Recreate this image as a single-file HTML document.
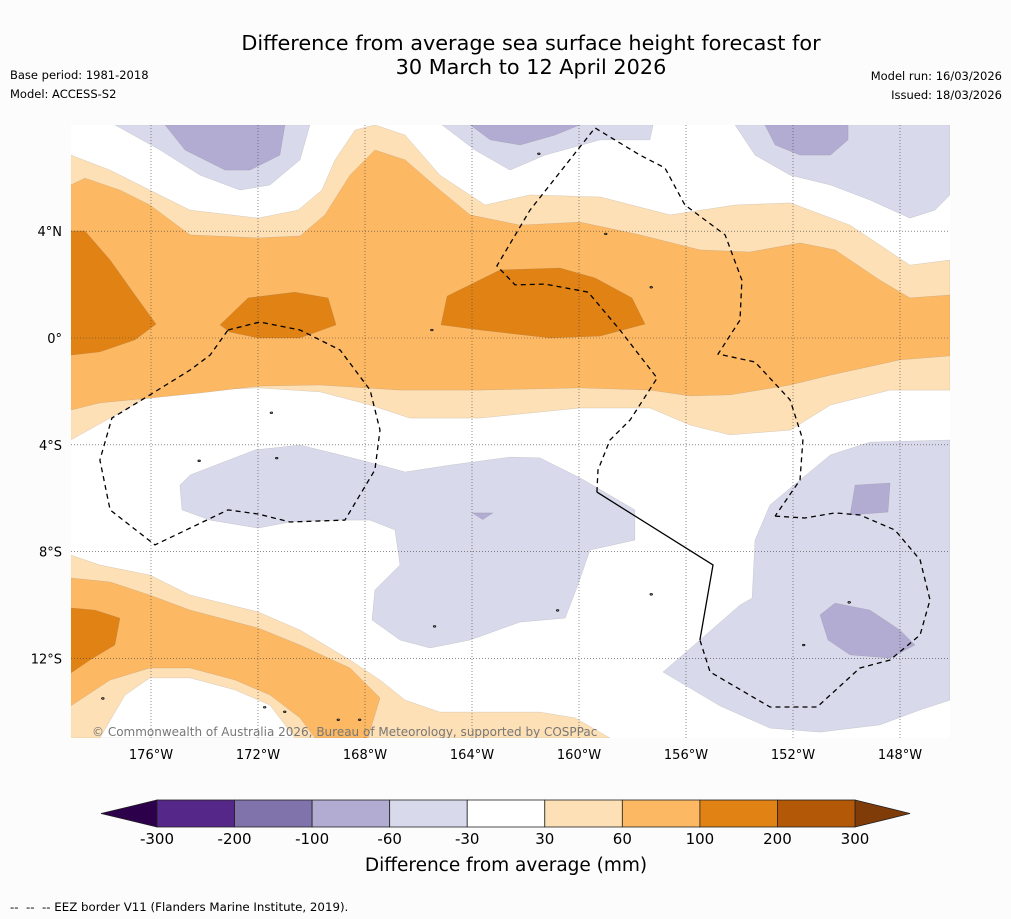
<!DOCTYPE html>
<html><head><meta charset="utf-8">
<style>
body{margin:0;background:#fcfcfc;font-family:"DejaVu Sans","Liberation Sans",sans-serif;}
#wrap{position:relative;width:1011px;height:919px;overflow:hidden;background:#fcfcfc}
.t{position:absolute;color:#000;white-space:nowrap}
</style></head>
<body>
<div id="wrap">
<div class="t" style="left:0;width:1062px;top:31px;text-align:center;font-size:20.8px;line-height:24px">Difference from average sea surface height forecast for<br>30 March to 12 April 2026</div>
<div class="t" style="left:10px;top:68px;font-size:11.5px">Base period: 1981-2018</div>
<div class="t" style="left:10px;top:87px;font-size:11.5px">Model: ACCESS-S2</div>
<div class="t" style="right:9px;top:69px;font-size:11.5px;text-align:right">Model run: 16/03/2026</div>
<div class="t" style="right:9px;top:88px;font-size:11.5px;text-align:right">Issued: 18/03/2026</div>
<div class="t" style="left:10px;top:900px;font-size:11.8px">--&nbsp; --&nbsp; -- EEZ border V11 (Flanders Marine Institute, 2019).</div>
<svg id="svg" width="1011" height="919" style="position:absolute;left:0;top:0"></svg>
</div>
<script>
const lonTicks=[-176,-172,-168,-164,-160,-156,-152,-148];
const lonLabels=["176°W","172°W","168°W","164°W","160°W","156°W","152°W","148°W"];
const latTicks=[4,0,-4,-8,-12];
const latLabels=["4°N","0°","4°S","8°S","12°S"];
const cbLevels=["-300","-200","-100","-60","-30","30","60","100","200","300"];
const cbColors=["#542788","#8073ac","#b2abd2","#d8daeb","#ffffff","#fee0b6","#fdb863","#e08214","#b35806"];
const cbUnder="#2d004b", cbOver="#7f3b08";
const orange30Top=[[-179,6.85],[-177.53,6.29],[-176.04,5.54],[-174.54,4.79],[-172,4.49],[-170.5,4.79],[-169.61,5.54],[-169.12,6.67],[-168.37,7.79],[-167.63,7.98],[-166.5,7.6],[-165.2,6.1],[-163.51,4.98],[-161.83,5.36],[-159.2,5.28],[-156.6,4.61],[-154.17,4.98],[-152.1,5.06],[-149.87,4.23],[-147.63,2.73],[-146.13,2.92],[-146.13,-1.95],[-148.37,-1.95],[-150.6,-2.51],[-152.1,-3.45],[-154.36,-3.63],[-155.85,-3.26],[-157.35,-2.62],[-159.96,-2.62],[-163.7,-3.0],[-166.32,-3.0],[-167.81,-2.51],[-169.68,-2.02],[-172,-1.87],[-174.17,-1.95],[-176.04,-2.17],[-179,-3.82]];
const orange60Top=[[-179,5.73],[-178.47,5.99],[-177.16,5.54],[-176.04,4.98],[-174.54,3.86],[-172,3.75],[-170.43,3.82],[-169.5,4.61],[-168.56,6.1],[-167.63,7.04],[-166.5,6.67],[-165.2,5.54],[-164.07,4.61],[-162.21,4.23],[-159.96,4.34],[-157.72,3.86],[-155.48,3.3],[-153.61,3.22],[-151.74,3.56],[-150.43,3.3],[-148.75,2.17],[-147.63,1.5],[-146.13,1.61],[-146.13,-0.67],[-148,-0.82],[-150.6,-1.39],[-152.1,-1.76],[-154.36,-2.13],[-155.85,-2.17],[-157.35,-1.95],[-159.96,-1.87],[-163.7,-1.95],[-166.69,-1.95],[-169.68,-1.76],[-172,-1.8],[-174.17,-2.06],[-176.04,-2.25],[-177.91,-2.43],[-179,-2.7]];
const orange100A=[[-179,4.01],[-178.47,4.01],[-177.53,2.92],[-176.6,1.61],[-175.81,0.52],[-176.6,-0.07],[-177.91,-0.52],[-179,-0.64]];
const orange100B=[[-173.42,0.49],[-172.37,1.5],[-170.62,1.72],[-169.38,1.5],[-169.08,0.49],[-170.43,0],[-172,0],[-173.05,0.22]];
const orange100C=[[-164.93,1.57],[-162.95,2.55],[-160.71,2.62],[-159.4,2.25],[-158.02,1.5],[-157.53,0.52],[-159.21,0.07],[-161.08,0],[-163.7,0.3],[-165.16,0.49]];
const purple30TL=[[-177.35,7.98],[-170.06,7.98],[-170.43,6.67],[-171.55,5.73],[-172.67,5.54],[-174.17,6.1],[-175.66,7.04]];
const purple60TL=[[-175.48,7.98],[-170.99,7.98],[-171.18,6.85],[-172.3,6.29],[-173.23,6.29],[-174.73,7.04]];
const purple30TM=[[-165.12,7.98],[-157.23,7.98],[-157.35,7.42],[-159.21,7.42],[-161.27,6.85],[-162.58,6.29],[-163.89,7.04]];
const purple60TM=[[-164.07,7.98],[-159.96,7.98],[-160.9,7.6],[-162.2,7.23],[-163.32,7.42]];
const purple30TR=[[-154.17,7.98],[-146.13,7.98],[-146.13,5.36],[-146.69,4.79],[-147.63,4.49],[-149.12,5.17],[-150.6,5.73],[-152.11,6.1],[-153.42,6.85]];
const purple60TR=[[-153.05,7.98],[-149.94,7.98],[-149.94,7.42],[-150.6,6.85],[-151.74,6.85],[-152.67,7.23]];
const purple30Mid=[[-174.92,-5.51],[-174.54,-5.13],[-172.11,-4.19],[-170.43,-4.01],[-168.93,-4.38],[-167.44,-4.76],[-166.5,-5.02],[-164.82,-4.76],[-162.58,-4.46],[-161.46,-4.49],[-159.96,-5.24],[-157.91,-6.44],[-157.91,-7.57],[-159.59,-7.94],[-160.04,-9.25],[-160.52,-10.49],[-162.21,-10.64],[-164.07,-11.31],[-165.57,-11.61],[-166.69,-11.31],[-167.74,-10.56],[-167.63,-9.44],[-166.69,-8.5],[-166.88,-7.19],[-167.81,-6.82],[-169.12,-6.82],[-170.8,-6.89],[-172,-7.12],[-173.79,-6.82],[-174.84,-6.44]];
const purple60Mid=[[-164.0,-6.55],[-163.21,-6.55],[-163.6,-6.8]];
const purple30R=[[-156.86,-12.51],[-155.48,-11.31],[-153.98,-10.0],[-153.53,-9.74],[-153.42,-7.57],[-152.86,-6.25],[-151.74,-5.32],[-150.6,-4.38],[-149.12,-3.9],[-146.13,-3.82],[-146.13,-13.56],[-147.25,-13.93],[-148.75,-14.49],[-150.99,-14.76],[-152.86,-14.61],[-154.73,-13.78]];
const purple60Ra=[[-149.68,-5.51],[-148.37,-5.43],[-148.45,-6.52],[-149.87,-6.63]];
const purple60Rb=[[-150.99,-10.37],[-150.43,-9.93],[-149.12,-10.19],[-148,-10.94],[-147.44,-11.5],[-148.37,-11.99],[-149.87,-11.87],[-150.69,-11.31]];
const orange30Bot=[[-179,-8.13],[-177.91,-8.5],[-176.04,-8.88],[-174.54,-9.63],[-172,-10.26],[-170.43,-10.94],[-168.56,-12.06],[-167.44,-12.81],[-166.5,-13.56],[-165.2,-14.01],[-161.46,-14.01],[-160.15,-14.23],[-158.84,-14.98],[-179,-14.98]];
const orange60Bot=[[-179,-8.99],[-177.53,-9.14],[-176.04,-9.63],[-174.54,-10.19],[-172,-10.86],[-170.43,-11.5],[-168.56,-12.36],[-167.44,-13.48],[-167.89,-14.98],[-169.87,-14.98],[-170.43,-14.23],[-171.55,-13.37],[-172.86,-12.81],[-174.54,-12.36],[-176.04,-12.36],[-177.53,-12.81],[-179,-13.78]];
const whiteBot=[[-177.91,-14.98],[-176.97,-13.37],[-176.04,-12.73],[-174.54,-12.73],[-172.86,-13.18],[-171.55,-13.75],[-170.62,-14.98]];
const orange100Bot=[[-179,-10.11],[-178.09,-10.19],[-177.16,-10.49],[-177.35,-11.5],[-178.28,-12.06],[-179,-12.55]];
const eezLeft=[[-173.12,0.3],[-171.93,0.6],[-170.43,0.3],[-168.93,-0.45],[-167.81,-1.95],[-167.44,-3.45],[-167.63,-4.94],[-168.75,-6.82],[-170.8,-6.89],[-172,-6.59],[-173.12,-6.44],[-175.85,-7.75],[-177.53,-6.44],[-177.91,-4.57],[-177.46,-3.0],[-176.04,-2.13],[-174.54,-1.2],[-173.79,-0.64],[-173.12,0.3]];
const eezCentral=[[-159.33,-5.77],[-159.29,-4.94],[-158.84,-3.82],[-158.09,-3.07],[-157.08,-1.5],[-158.47,0.3],[-159.66,1.72],[-161.27,2.02],[-162.39,1.99],[-163.07,2.7],[-161.83,4.79],[-159.4,7.87],[-157.72,6.85],[-156.79,6.37],[-156.04,4.98],[-154.54,3.86],[-153.91,2.17],[-153.98,0.67],[-154.8,-0.6],[-153.42,-0.9],[-152.11,-2.32],[-151.63,-3.82],[-151.74,-5.32],[-152.67,-6.67]];
const eezRight=[[-152.67,-6.67],[-151.55,-6.74],[-150.43,-6.55],[-149.5,-6.63],[-148.19,-7.19],[-147.25,-8.31],[-146.88,-9.81],[-147.25,-11.12],[-148.37,-12.06],[-149.5,-12.36],[-151.1,-13.82],[-152.86,-13.82],[-155.1,-12.51],[-155.48,-11.31]];
const eezSolid=[[-159.33,-5.77],[-154.99,-8.5],[-155.48,-11.31]];
const islands=[[-171.75,-13.83],[-171.0,-14.0],[-169.0,-14.3],[-165.4,-10.8],[-160.8,-10.2],[-157.3,-9.6],[-151.6,-11.5],[-149.9,-9.9],[-177.8,-13.5],[-168.2,-14.3],[-171.5,-2.8],[-174.2,-4.6],[-171.3,-4.5],[-157.3,1.9],[-159.0,3.9],[-161.5,6.9],[-165.5,0.3]];

const X0=71,X1=950,Y0=125,Y1=738;
const xs=lon=>151+(lon+176)*26.75;
const ys=lat=>338-lat*26.7;
const NS="http://www.w3.org/2000/svg";
const svg=document.getElementById('svg');
function mk(tag,attrs,parent){const e=document.createElementNS(NS,tag);for(const k in attrs)e.setAttribute(k,attrs[k]);(parent||svg).appendChild(e);return e;}
const defs=mk('defs',{});
const cp=mk('clipPath',{id:'mapclip'},defs);
mk('rect',{x:X0,y:Y0,width:X1-X0,height:Y1-Y0},cp);
const map=mk('g',{'clip-path':'url(#mapclip)'});


const bg=mk('rect',{x:X0,y:Y0,width:X1-X0,height:Y1-Y0,fill:'#ffffff'},map);


function poly(pts,fill,name){const d=pts.map((p,i)=>(i?'L':'M')+xs(p[0]).toFixed(1)+','+ys(p[1]).toFixed(1)).join('')+'Z';
 const e=mk('path',{d:d,fill:fill,stroke:'#777',"stroke-width":0.3,"stroke-opacity":0.5},map);
 
 return e;}
poly(orange30Top,cbColors[5],'contour-30-60-north');
poly(orange60Top,cbColors[6],'contour-60-100-north');
poly(orange100A,cbColors[7],'contour-100-200-west');
poly(orange100B,cbColors[7],'contour-100-200-mid');
poly(orange100C,cbColors[7],'contour-100-200-central');
poly(purple30TL,cbColors[3],'contour-neg30-top-left');
poly(purple60TL,cbColors[2],'contour-neg60-top-left');
poly(purple30TM,cbColors[3],'contour-neg30-top-mid');
poly(purple60TM,cbColors[2],'contour-neg60-top-mid');
poly(purple30TR,cbColors[3],'contour-neg30-top-right');
poly(purple60TR,cbColors[2],'contour-neg60-top-right');
poly(purple30Mid,cbColors[3],'contour-neg30-central');
poly(purple60Mid,cbColors[2],'contour-neg60-central');
poly(purple30R,cbColors[3],'contour-neg30-southeast');
poly(purple60Ra,cbColors[2],'contour-neg60-east-a');
poly(purple60Rb,cbColors[2],'contour-neg60-east-b');
poly(orange30Bot,cbColors[5],'contour-30-60-south');
poly(orange60Bot,cbColors[6],'contour-60-100-south');
poly(whiteBot,cbColors[4],'contour-neutral-south');
poly(orange100Bot,cbColors[7],'contour-100-200-south');
lonTicks.forEach((l,i)=>{const g=mk('line',{x1:xs(l),x2:xs(l),y1:Y0,y2:Y1,stroke:'#444',"stroke-width":0.6,"stroke-dasharray":"1,2"},map);
 
 
 const t=mk('text',{x:xs(l),y:759,"text-anchor":"middle","font-size":13,fill:'#000'});t.textContent=lonLabels[i];
 
 });
latTicks.forEach((l,i)=>{const g=mk('line',{x1:X0,x2:X1,y1:ys(l),y2:ys(l),stroke:'#444',"stroke-width":0.6,"stroke-dasharray":"1,2"},map);
 
 
 const t=mk('text',{x:62,y:ys(l)+5,"text-anchor":"end","font-size":13,fill:'#000'});t.textContent=latLabels[i];
 
 });
function line(pts,dash,name){const d=pts.map((p,i)=>(i?'L':'M')+xs(p[0]).toFixed(1)+','+ys(p[1]).toFixed(1)).join('');
 const e=mk('path',{d:d,fill:'none',stroke:'#000',"stroke-width":1.3,"stroke-dasharray":dash},map);
 
 }
line(eezLeft,'5,4','eez-border-west');
line(eezCentral,'5,4','eez-border-central');
line(eezRight,'5,4','eez-border-east');
line(eezSolid,'none','eez-border-solid');
islands.forEach(p=>{const e=mk('ellipse',{cx:xs(p[0]),cy:ys(p[1]),rx:1.3,ry:0.8,fill:'#888',stroke:'#000',"stroke-width":0.7},map);
 
 });
const cr=mk('text',{x:92,y:736,"font-size":12,fill:'#777'},map);cr.textContent='© Commonwealth of Australia 2026, Bureau of Meteorology, supported by COSPPac';


const CB0=157,CB1=855,CBY=800,CBH=27,sw=(CB1-CB0)/cbColors.length;
const cb=mk('g',{});


const u=mk('polygon',{points:`${CB0},${CBY} ${CB0},${CBY+CBH} 101,${CBY+CBH/2}`,fill:cbUnder,stroke:'#222',"stroke-width":0.8},cb);


const o=mk('polygon',{points:`${CB1},${CBY} ${CB1},${CBY+CBH} 910,${CBY+CBH/2}`,fill:cbOver,stroke:'#222',"stroke-width":0.8},cb);


cbColors.forEach((c,i)=>{const r=mk('rect',{x:CB0+i*sw,y:CBY,width:sw,height:CBH,fill:c,stroke:'#222',"stroke-width":0.8},cb);
 
 });
cbLevels.forEach((l,i)=>{const t=mk('text',{x:CB0+i*sw,y:844,"text-anchor":"middle","font-size":15,fill:'#000'},cb);t.textContent=l;
 
 });
const ct=mk('text',{x:506,y:871,"text-anchor":"middle","font-size":18.5,fill:'#000'},cb);ct.textContent='Difference from average (mm)';


</script>
</body></html>
